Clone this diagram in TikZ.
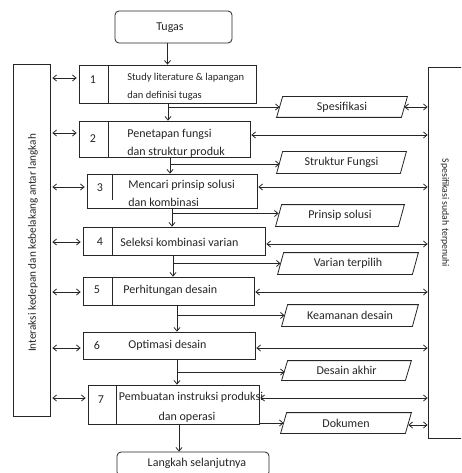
\documentclass[tikz,border=0pt]{standalone}
\usepackage{fontspec}
\setmainfont{Carlito}
\usetikzlibrary{arrows.meta,calc}
\begin{document}
\begin{tikzpicture}[x=1pt,y=-1pt,
  line width=0.8pt, color=black!85,
  >={Straight Barb[length=3.5pt,width=6pt]},
  stepbox/.style={draw, rectangle, inner sep=0pt},
  parabox/.style={rectangle, inner sep=0pt, font=\fontsize{12}{14}\selectfont},
  txt/.style={inner sep=0pt, anchor=west, font=\fontsize{12}{14}\selectfont},
  smalltxt/.style={inner sep=0pt, anchor=west, font=\fontsize{10.5}{12}\selectfont},
  numtxt/.style={inner sep=0pt, font=\fontsize{12}{14}\selectfont},
  endbox/.style={draw, rectangle, rounded corners=4pt, inner sep=0pt}
]
\useasboundingbox (0,0) rectangle (461,473);
\fill[white] (0,0) rectangle (461,473);
\clip (0,0) rectangle (461,473);

% start / end
\node[endbox, minimum width=117pt, minimum height=32pt] (tugas) at (173.5,27) {};
\node[numtxt] (tugastxt) at (170,28) {Tugas};
\node[endbox, minimum width=152pt, minimum height=24pt] (lang) at (193,464) {};
\node[numtxt] (langtxt) at (197,463) {Langkah selanjutnya};

% side boxes
\node[stepbox, minimum width=37pt, minimum height=352pt] (lbox) at (31.5,240) {};
\node[numtxt, rotate=90, font=\fontsize{11.2}{13}\selectfont] (ltxt) at (33,243) {Interaksi kedepan dan kebelakang antar langkah};
\node[stepbox, minimum width=44pt, minimum height=371pt] (rbox) at (450,252.5) {};
\node[numtxt, rotate=-90, font=\fontsize{9.8}{12}\selectfont] (rtxt) at (445,213) {Spesifikasi sudah terpenuhi};

% step boxes
\node[stepbox, minimum width=177pt, minimum height=38pt] (box1) at (167.5,84) {};
\node[stepbox, minimum width=171pt, minimum height=36pt] (box2) at (164.5,139) {};
\node[stepbox, minimum width=170pt, minimum height=34pt] (box3) at (172,191) {};
\node[stepbox, minimum width=182pt, minimum height=28pt] (box4) at (174,241) {};
\node[stepbox, minimum width=171pt, minimum height=28pt] (box5) at (168.5,291) {};
\node[stepbox, minimum width=172pt, minimum height=27pt] (box6) at (169,345.5) {};
\node[stepbox, minimum width=171pt, minimum height=39pt] (box7) at (173.5,404.5) {};

% dividers
\draw ([xshift=30pt]box1.north west) -- ([xshift=30pt]box1.south west);
\draw ([xshift=30pt]box2.north west) -- ([xshift=30pt]box2.south west);
\draw ([xshift=26pt]box3.north west) -- ([xshift=26pt,yshift=-26pt]box3.north west);
\draw ([xshift=30pt]box4.north west) -- ([xshift=30pt]box4.south west);
\draw ([xshift=30pt]box5.north west) -- ([xshift=30pt]box5.south west);
\draw ([xshift=29pt]box7.north west) -- ([xshift=29pt]box7.south west);

% numbers
\node[numtxt] (n1) at (93,80) {1};
\node[numtxt] (n2) at (93,139) {2};
\node[numtxt] (n3) at (100,188) {3};
\node[numtxt] (n4) at (100,242) {4};
\node[numtxt] (n5) at (97,290) {5};
\node[numtxt] (n6) at (97,345) {6};
\node[numtxt] (n7) at (101,400) {7};

% step texts
\node[smalltxt] (t1a) at (127,78) {Study literature \& lapangan};
\node[smalltxt] (t1b) at (127,96) {dan definisi tugas};
\node[txt] (t2a) at (127,134) {Penetapan fungsi};
\node[txt] (t2b) at (127,152) {dan struktur produk};
\node[txt] (t3a) at (128,185) {Mencari prinsip solusi};
\node[txt] (t3b) at (128,202) {dan kombinasi};
\node[txt] (t4) at (120,242) {Seleksi kombinasi varian};
\node[txt] (t5) at (123,290) {Perhitungan desain};
\node[txt] (t6) at (128,345) {Optimasi desain};
\node[numtxt] (t7a) at (191,397) {Pembuatan instruksi produksi};
\node[numtxt] (t7b) at (187,417) {dan operasi};

% parallelograms
\node[parabox, minimum width=124pt, minimum height=20pt] (spec) at (342,107) {Spesifikasi};
\node[parabox, minimum width=123pt, minimum height=21pt] (struk) at (341.5,162.5) {Struktur Fungsi};
\node[parabox, minimum width=122pt, minimum height=21pt] (prin) at (340,215.5) {Prinsip solusi};
\node[parabox, minimum width=134pt, minimum height=21pt] (var) at (348,263.5) {Varian terpilih};
\node[parabox, minimum width=130pt, minimum height=21pt] (keam) at (350,315.5) {Keamanan desain};
\node[parabox, minimum width=123pt, minimum height=19pt] (desa) at (346.5,370.5) {Desain akhir};
\node[parabox, minimum width=124pt, minimum height=20pt] (dok) at (346,423) {Dokumen};
\foreach \n in {spec,struk,prin,var,keam,desa,dok}{
  \draw ([xshift=-3pt]\n.south west) -- ([xshift=3pt]\n.north west) -- ([xshift=3pt]\n.north east) -- ([xshift=-3pt]\n.south east) -- cycle;
}

% main flow
\draw[->] (box1.north |- tugas.south) -- (box1.north);
\coordinate (v12) at ([xshift=0.5pt]box1.south);
\coordinate (v23) at ([xshift=5.5pt]box2.south);
\coordinate (v34) at (box3.south);
\coordinate (v45) at ([xshift=-1pt]box4.south);
\coordinate (v56) at ([xshift=8.5pt]box5.south);
\coordinate (v67) at ([xshift=8pt]box6.south);
\coordinate (v7l) at ([xshift=5.5pt]box7.south);
\draw[->] (v12) -- (v12 |- box2.north);
\draw[->] (v23) -- (v23 |- box3.north);
\draw[->] (v34) -- (v34 |- box4.north);
\draw[->] (v45) -- (v45 |- box5.north);
\draw[->] (v56) -- (v56 |- box6.north);
\draw[->] (v67) -- (v67 |- box7.north);
\draw[->] (v7l) -- (v7l |- lang.north);

% branches to outputs
\draw[->] (v12 |- spec.west) -- (spec.west);
\draw[->] ($(v23 |- struk.west)+(0,1.5)$) -- ($(struk.west)+(0,1.5)$);
\draw[->] ($(v34 |- prin.west)+(0,-2)$) -- ($(prin.west)+(0,-2)$);
\draw[->] (v45 |- var.west) -- (var.west);
\draw[->] (v56 |- keam.west) -- (keam.west);
\draw[->] ($(v67 |- desa.west)+(0,1.5)$) -- ($(desa.west)+(0,1.5)$);
\draw[->] (box7.east |- dok.west) -- (dok.west);

% left interactions
\foreach \b/\dy in {box1/-6, box2/-6, box3/-4, box4/1, box5/1, box6/2.5, box7/-6.5}{
  \draw[<->] ($(lbox.east |- \b.west)+(2,\dy)$) -- ($(\b.west)+(-2,\dy)$);
}

% right interactions
\draw[<->] (spec.east) -- (spec.east -| rbox.west);
\foreach \b/\dy in {box2/-4, box3/-4, box4/3, box5/1, box6/2.5, box7/-6.5}{
  \draw[<->] ($(\b.east)+(1,\dy)$) -- ($(rbox.west |- \b.east)+(0,\dy)$);
}
\draw[<->] ($(dok.east)+(0,2)$) -- ($(dok.east -| rbox.west)+(0,2)$);
\end{tikzpicture}
\end{document}
